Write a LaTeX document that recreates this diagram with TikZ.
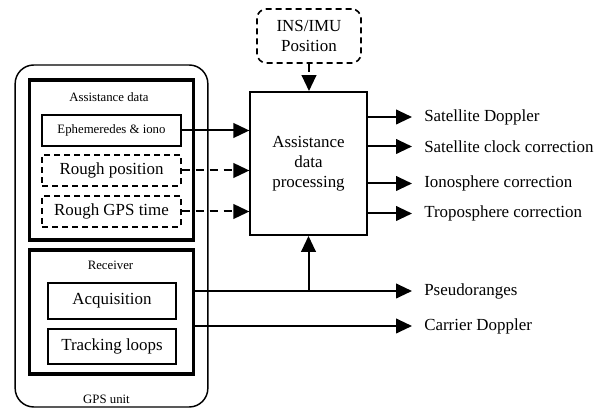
\documentclass[tikz,border=0pt]{standalone}
\usepackage{fontspec}
\setmainfont{Liberation Serif}
\usetikzlibrary{arrows.meta}

\tikzset{
  bigtext/.style={font=\fontsize{12.7}{14.8}\selectfont},
  smalltext/.style={font=\fontsize{9.6}{11}\selectfont},
  box/.style={draw, line width=1.2pt, inner sep=0pt, align=center},
  dbox/.style={box, dash pattern=on 4.5pt off 3pt},
  heavybox/.style={draw, line width=2.3pt, inner sep=0pt},
  flow/.style={line width=1.5pt, -{Triangle[length=12pt, width=11pt]}},
  dflow/.style={flow, dash pattern=on 6pt off 4.5pt},
  outlabel/.style={bigtext, anchor=west, inner sep=0pt}
}

\begin{document}
\begin{tikzpicture}[x=0.75pt,y=0.75pt,yscale=-1,xscale=1]
            \useasboundingbox (0,0) rectangle (608,409);

            %Shape: GPS unit
            \node [draw, line width=1.1pt, rounded corners=14pt, minimum width=144.5pt, minimum height=256.5pt, inner sep=0pt] (gps) at (111.5,236) {};
            %Shape: Assistance data
            \node [heavybox, minimum width=123.5pt, minimum height=120pt] (asd) at (111.5,160) {};
            %Shape: Receiver
            \node [heavybox, minimum width=123.5pt, minimum height=93pt] (rcv) at (111.5,312) {};

            %Shape: inner blocks
            \node [box, smalltext, minimum width=104pt, minimum height=23pt] (eph) at (111.5,130.5) {Ephemeredes \& iono};
            \node [dbox, bigtext, minimum width=104pt, minimum height=23pt] (rpos) at (111.5,170.5) {Rough position};
            \node [dbox, bigtext, minimum width=104pt, minimum height=23pt] (rtime) at (111.5,211.5) {Rough GPS time};
            \node [box, bigtext, minimum width=96pt, minimum height=27pt] (acq) at (112,301) {Acquisition};
            \node [box, bigtext, minimum width=96pt, minimum height=26pt] (trk) at (112,346.5) {Tracking loops};

            %Shape: processing and INS
            \node [box, bigtext, minimum width=87.5pt, minimum height=107.5pt] (proc) at (308.5,163.5) {Assistance\\data\\processing};
            \node [dbox, bigtext, rounded corners=7pt, minimum width=78pt, minimum height=40.5pt] (ins) at (309,36) {INS/IMU\\Position};

            % Text Node
            \node [smalltext] (asdlabel) at (109,97) {Assistance data};
            % Text Node
            \node [smalltext] (rcvlabel) at (110.5,265) {Receiver};
            % Text Node
            \node [smalltext] (gpslabel) at (106.5,399) {GPS unit};

            % Text Node
            \node [outlabel] (sdop) at (424,117) {Satellite Doppler};
            \node [outlabel] (sclk) at (424,146.5) {Satellite clock correction};
            \node [outlabel] (iono) at (424,183.5) {Ionosphere correction};
            \node [outlabel] (tropo) at (424,213.5) {Troposphere correction};
            \node [outlabel] (pr) at (424,291) {Pseudoranges};
            \node [outlabel] (cdop) at (424,326) {Carrier Doppler};

            %Straight Lines: inputs
            \draw [flow] (eph.east) -- (eph.east -| proc.west);
            \draw [dflow] (rpos.east) -- (rpos.east -| proc.west);
            \draw [dflow] (rtime.east) -- (rtime.east -| proc.west);
            \draw [dflow] (ins.south) -- (ins.south |- proc.north);

            %Straight Lines: outputs
            \foreach \out in {sdop,sclk,iono,tropo}
              \draw [flow] (proc.east |- \out.west) -- ([xshift=-9pt]\out.west);
            \draw [flow] (rcv.east |- pr.west) -- ([xshift=-9pt]pr.west);
            \draw [flow] (rcv.east |- cdop.west) -- ([xshift=-9pt]cdop.west);
            \draw [flow] (proc.south |- pr.west) -- (proc.south);

\end{tikzpicture}
\end{document}
